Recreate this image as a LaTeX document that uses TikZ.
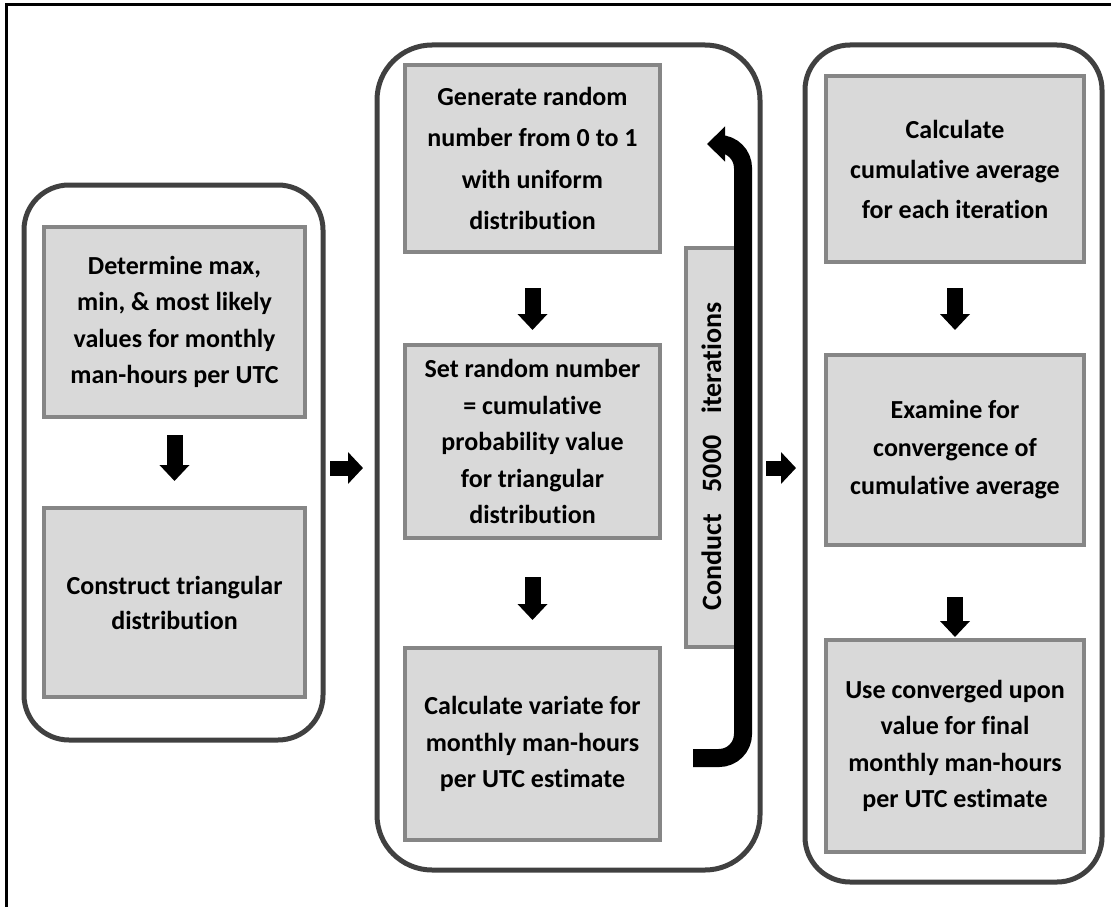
\documentclass[tikz,border=0pt]{standalone}
\usepackage{fontspec}
\setmainfont{Carlito}[Ligatures={NoCommon,NoContextual}]
\usetikzlibrary{arrows.meta}
\definecolor{boxfill}{HTML}{D9D9D9}
\definecolor{boxline}{HTML}{868686}
\definecolor{grpline}{HTML}{404040}
\newcommand{\boxfont}[1]{\bfseries\fontsize{26}{#1}\selectfont}
\begin{document}
\begin{tikzpicture}[x=1pt,y=-1pt,
  grp/.style={draw=grpline,line width=5pt,rounded corners=45pt,inner sep=0pt,outer sep=0pt},
  stepbox/.style={draw=boxline,fill=boxfill,line width=3.5pt,inner sep=0pt,outer sep=0pt,align=center,
    font=\boxfont{36.5}},
  blkh/.style={line width=15pt,-{Triangle[length=15pt,width=31pt]}},
  blkv/.style={line width=16pt,-{Triangle[length=16pt,width=29pt]}},
  loop/.style={line width=18pt,rounded corners=24pt,-{Triangle[length=18pt,width=34pt]}},
]
\useasboundingbox (0,0) rectangle (1111,907);
% outer frame
\draw[line width=3pt] (6,907) -- (6,5) -- (1111,5);

% groups
\node[grp,minimum width=299pt,minimum height=555pt] (g1) at (173.5,462.5) {};
\node[grp,rounded corners=55pt,minimum width=383pt,minimum height=825pt] (g2) at (568.5,457.5) {};
\node[grp,minimum width=297pt,minimum height=837pt] (g3) at (953.5,463.5) {};

% left boxes
\node[stepbox,minimum width=261pt,minimum height=190pt] (b1) at (174.5,322)
  {Determine max,\\min, \& most likely\\values for monthly\\man-hours per UTC};
\node[stepbox,font=\boxfont{35},minimum width=261pt,minimum height=189pt] (b2) at (174.5,602.5)
  {Construct triangular\\distribution};

% middle boxes
\node[stepbox,font=\boxfont{41.5},minimum width=255pt,minimum height=187pt] (m1) at (532.5,158.5)
  {Generate random\\number from 0 to 1\\with uniform\\distribution};
\node[stepbox,minimum width=255pt,minimum height=193pt] (m2) at (532.5,441.5)
  {Set random number\\= cumulative\\probability value\\for triangular\\distribution};
\node[stepbox,minimum width=255pt,minimum height=192pt] (m3) at (532.5,744)
  {Calculate variate for\\monthly man-hours\\per UTC estimate};
\node[stepbox,font=\bfseries\fontsize{28}{33}\selectfont,rotate=90,minimum width=399pt,minimum height=51pt] (rot) at (711.5,447.5)
  {Conduct\hspace{22pt}5000\hspace{22pt}iterations\hspace{18pt}};

% right boxes
\node[stepbox,font=\boxfont{40},minimum width=258pt,minimum height=186pt] (r1) at (955,169)
  {Calculate\\cumulative average\\for each iteration};
\node[stepbox,font=\boxfont{38},minimum width=258pt,minimum height=190pt] (r2) at (955,450)
  {Examine for\\convergence of\\cumulative average};
\node[stepbox,minimum width=258pt,minimum height=212pt] (r3) at (955,746)
  {Use converged upon\\value for final\\monthly man-hours\\per UTC estimate};

% arrows between groups
\coordinate (ah) at (0,468);
\draw[blkh,shorten <=7pt,shorten >=14pt] (g1.east |- ah) -- (g2.west |- ah);
\draw[blkh,shorten <=6pt,shorten >=9pt] (g2.east |- ah) -- (g3.west |- ah);

% down arrows
\draw[blkv,shorten <=18pt,shorten >=27pt] (b1.south) -- (b2.north);
\draw[blkv,shorten <=36pt,shorten >=15pt] (m1.south) -- (m2.north);
\draw[blkv,shorten <=39pt,shorten >=28pt] (m2.south) -- (m3.north);
\draw[blkv,shorten <=26pt,shorten >=25pt] (r1.south) -- (r2.north);
\draw[blkv,shorten <=52pt,shorten >=3pt] (r2.south) -- (r3.north);

% loop arrow
\coordinate (lb) at (693,758);
\coordinate (lt) at (707,144);
\coordinate (lx) at (743,0);
\draw[loop] (lb) -| (lx |- lt) -- (lt);
\end{tikzpicture}
\end{document}
